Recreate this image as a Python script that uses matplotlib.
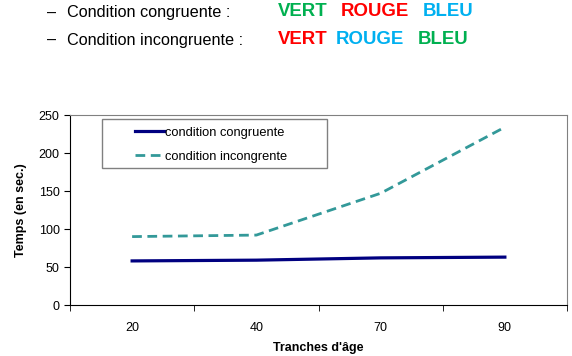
import numpy as np
import matplotlib.pyplot as plt
from matplotlib.patches import Rectangle

plt.rcParams['font.family'] = ['Liberation Sans', 'DejaVu Sans']

# data
tranches = ['20', '40', '70', '90']
congruente = [58, 59, 62, 63]
incongruente = [90, 92, 147, 234]

fig = plt.figure(figsize=(5.72, 3.56), dpi=100)

# header lines (Stroop example)
fig.text(47 / 572, 1 - 13 / 356, '–', fontsize=11.7, va='center')
fig.text(67 / 572, 1 - 13 / 356, 'Condition congruente :', fontsize=11.7, va='center')
fig.text(47 / 572, 1 - 40 / 356, '–', fontsize=11.7, va='center')
fig.text(67 / 572, 1 - 40 / 356, 'Condition incongruente :', fontsize=11.7, va='center')

green, red, blue = '#00B050', '#FF0000', '#00B0F0'
row1 = [('VERT', green, 278), ('ROUGE', red, 341), ('BLEU', blue, 423)]
row2 = [('VERT', red, 278), ('ROUGE', blue, 336), ('BLEU', green, 418)]
for y, row in [(12, row1), (40, row2)]:
    for word, col, x in row:
        fig.text(x / 572, 1 - y / 356, word, fontsize=13.4, fontweight='bold',
                 color=col, va='center')

ax = fig.add_axes([70 / 572, 51 / 356, 497 / 572, 190 / 356])
x = np.arange(len(tranches))
ax.plot(x, congruente, color='#000080', lw=2.3, label='condition congruente')
ax.plot(x, incongruente, color='#339999', lw=2, ls=(0, (3.5, 2)),
        label='condition incongrente')

ax.set_xlim(-0.5, len(tranches) - 0.5)
ax.set_ylim(0, 250)
ax.set_yticks(range(0, 251, 50))
ax.set_xticks(x)
ax.set_xticklabels(tranches)
ax.set_xticks(np.arange(-0.5, len(tranches), 1), minor=True)
ax.tick_params(axis='x', which='major', length=0, labelsize=9, pad=12)
ax.tick_params(axis='x', which='minor', length=4, direction='out')
ax.tick_params(axis='y', length=4, labelsize=9, direction='out')

ax.spines['left'].set_color('black')
ax.spines['bottom'].set_color('black')
ax.spines['top'].set_color('#808080')
ax.spines['right'].set_color('#808080')

ax.set_xlabel("Tranches d'âge", fontsize=9, fontweight='bold', labelpad=6)
ax.set_ylabel('Temps (en sec.)', fontsize=9, fontweight='bold', labelpad=8)

# legend box drawn like the Excel one (wide frame)
ax.add_patch(Rectangle((32 / 497, 137 / 190), 225 / 497, 49 / 190,
                       transform=ax.transAxes, facecolor='white',
                       edgecolor='#808080', lw=1, zorder=3))
leg = ax.legend(loc='upper left', bbox_to_anchor=(62 / 497, 1 - 9 / 190),
                fontsize=9.3, frameon=False, handlelength=2.3,
                handletextpad=0.05, borderpad=0.2, labelspacing=0.95,
                borderaxespad=0)
leg.set_zorder(4)

fig.savefig('out.png', dpi=100)
